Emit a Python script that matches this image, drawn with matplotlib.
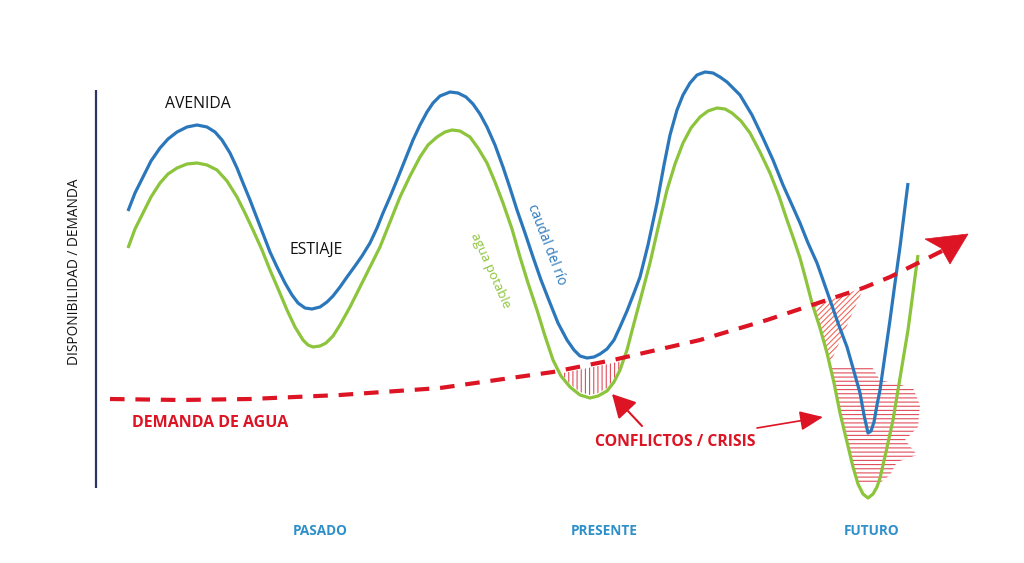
import numpy as np
import matplotlib
matplotlib.use("Agg")
import matplotlib.pyplot as plt
from matplotlib.patches import Polygon

# ---- data (x = time position, y = screen level, y axis inverted) ----
caudal_x = [128, 135, 143, 151, 160, 168, 177, 187, 197, 207, 215, 222, 230, 237, 243, 250, 260,
            270, 277, 285, 292, 298, 305, 312, 320, 327, 333, 340, 347, 355, 362, 370, 377, 383,
            390, 397, 405, 413, 420, 427, 433, 440, 450, 458, 466, 473, 480, 487, 495, 503, 510,
            517, 525, 533, 541, 550, 558, 567, 574, 580, 587, 594, 600, 607, 614, 620, 627, 634,
            640, 648, 657, 664, 670, 677, 683, 690, 697, 705, 713, 720, 727, 740, 752, 763, 773,
            783, 792, 800, 808, 817, 823, 830, 838, 847, 853, 860, 864, 868, 871, 874, 877, 880,
            885, 890, 895, 900, 904, 908]
caudal_y = [211, 193, 177, 161, 148, 139, 132, 127, 125, 127, 132, 140, 153, 168, 183, 200, 226,
            252, 267, 283, 295, 303, 308, 309, 307, 302, 296, 287, 277, 266, 256, 243, 228, 213,
            197, 180, 160, 140, 125, 112, 103, 96, 92, 93, 97, 104, 114, 127, 145, 167, 188,
            210, 233, 257, 280, 303, 323, 340, 350, 356, 358, 357, 354, 349, 340, 327, 311, 293,
            277, 245, 203, 165, 135, 110, 95, 83, 75, 72, 73, 77, 82, 95, 115, 138, 160,
            185, 205, 223, 243, 263, 280, 300, 323, 347, 368, 393, 415, 433, 431, 422, 405, 390,
            355, 320, 283, 247, 215, 183]

potable_x = [128, 135, 143, 151, 160, 168, 177, 187, 197, 207, 217, 227, 237, 245, 253, 262, 270,
             279, 287, 295, 303, 308, 313, 320, 326, 333, 340, 350, 360, 370, 380, 390, 400, 410,
             420, 428, 437, 445, 452, 460, 470, 478, 487, 495, 503, 512, 520, 528, 537, 545, 553,
             561, 570, 580, 590, 598, 607, 614, 620, 627, 633, 641, 650, 658, 667, 675, 683, 691,
             700, 708, 717, 725, 732, 741, 750, 760, 770, 779, 787, 794, 800, 806, 812, 820, 827,
             834, 840, 847, 853, 858, 863, 868, 873, 877, 880, 886, 893, 898, 903, 908, 912, 915,
             918]
potable_y = [248, 229, 213, 197, 183, 174, 168, 164, 163, 165, 170, 181, 197, 213, 230, 250, 270,
             291, 310, 327, 340, 345, 347, 346, 343, 336, 325, 307, 287, 267, 247, 222, 197, 176,
             157, 145, 137, 132, 130, 131, 137, 148, 163, 182, 203, 229, 257, 283, 310, 336, 360,
             376, 387, 395, 398, 396, 391, 382, 370, 350, 327, 297, 263, 228, 190, 164, 143, 128,
             117, 111, 108, 109, 113, 121, 133, 152, 173, 196, 220, 240, 258, 280, 303, 328, 353,
             383, 413, 442, 467, 484, 494, 498, 494, 487, 478, 452, 420, 390, 360, 330, 300, 277,
             255]

demanda_x = [110, 180, 250, 340, 440, 553, 613, 700, 767, 833, 863, 890, 930, 944]
demanda_y = [399, 400, 399, 395, 388, 372, 360, 340, 320, 298, 288, 277, 257, 250]
flecha_x = [968, 925, 941, 950]
flecha_y = [234, 239, 248, 264]

# crisis zones (future)
crisis_diag_x = [815, 864, 829]
crisis_diag_y = [306, 287, 366]
crisis_edge_x = [872, 880, 913, 920, 918, 905, 917, 897, 890, 880]
crisis_edge_y = [367, 380, 388, 405, 427, 440, 455, 462, 475, 483]

periodos = ["PASADO", "PRESENTE", "FUTURO"]
periodos_x = [320, 604, 872]

BLUE = "#2a77bb"
GREEN = "#8cc43c"
RED = "#dc1424"
HATCH = "#e14c5a"
NAVY = "#2c3566"
LBLUE = "#2e8fc9"

plt.rcParams["font.family"] = ["Open Sans", "DejaVu Sans"]
plt.rcParams["hatch.linewidth"] = 0.8

fig = plt.figure(figsize=(10.24, 5.63), dpi=100)
ax = fig.add_axes([0, 0, 1, 1])
ax.set_xlim(0, 1024)
ax.set_ylim(563, 0)
ax.axis("off")

# y axis line
ax.plot([96, 96], [90, 488], color=NAVY, lw=1.6, solid_capstyle="butt")
ax.text(75, 272, "DISPONIBILIDAD / DEMANDA", rotation=90, ha="center", va="center",
        fontsize=9.8, color="#111111")

# present crisis hatch
gx = np.linspace(540, 640, 300)
g_interp = np.interp(gx, potable_x, potable_y)
d_interp = np.interp(gx, demanda_x, demanda_y)
ax.fill_between(gx, d_interp + 3, g_interp - 3, where=(g_interp - 3) > (d_interp + 3),
                facecolor="none", edgecolor=HATCH, hatch="||||", linewidth=0, zorder=1)

# future crisis: diagonal hatch
ax.add_patch(Polygon(np.column_stack([crisis_diag_x, crisis_diag_y]), closed=True,
                     facecolor="none", edgecolor="#ef6a5c", hatch="//////", linewidth=0, zorder=1))

# future crisis: horizontal hatch (left boundary follows left branch of green curve)
left_y = np.linspace(crisis_edge_y[-1], crisis_edge_y[0], 30)
px = np.array(potable_x); py = np.array(potable_y)
branch = (px >= 800) & (px <= 868)
left_x = np.interp(left_y, py[branch], px[branch])
poly = np.column_stack([np.concatenate([crisis_edge_x, left_x]),
                        np.concatenate([crisis_edge_y, left_y])])
ax.add_patch(Polygon(poly, closed=True, facecolor="none", edgecolor=HATCH,
                     hatch="----", linewidth=0, zorder=1))

# curves
ax.plot(potable_x, potable_y, color=GREEN, lw=2.3, zorder=3, solid_capstyle="butt",
        solid_joinstyle="round")
ax.plot(caudal_x, caudal_y, color=BLUE, lw=2.3, zorder=3, solid_capstyle="butt",
        solid_joinstyle="round")
ax.plot(demanda_x, demanda_y, color=RED, lw=3, dashes=(3.5, 2.6), zorder=4)
ax.add_patch(Polygon(np.column_stack([flecha_x, flecha_y]), closed=True, facecolor=RED,
                     edgecolor=RED, linewidth=0.5, zorder=4))

# labels
ax.text(198, 104, "AVENIDA", ha="center", va="center", fontsize=11.3, color="#111111")
ax.text(316, 250, "ESTIAJE", ha="center", va="center", fontsize=11.3, color="#111111")
ax.text(547, 245, "caudal del río", ha="center", va="center", fontsize=9.8, color=BLUE,
        rotation=-69, rotation_mode="anchor")
ax.text(490, 270, "agua potable", ha="center", va="center", fontsize=9.5, color=GREEN,
        rotation=-66, rotation_mode="anchor")
ax.text(210, 423, "DEMANDA DE AGUA", ha="center", va="center", fontsize=11.5,
        fontweight="bold", color=RED)
ax.text(675, 442, "CONFLICTOS / CRISIS", ha="center", va="center", fontsize=11.3,
        fontweight="bold", color=RED)

# crisis pointers
ax.annotate("", xy=(612, 394), xytext=(642, 426),
            arrowprops=dict(arrowstyle="-|>,head_length=1.3,head_width=0.7",
                            color=RED, lw=1.5, mutation_scale=11, shrinkA=0, shrinkB=0))
ax.annotate("", xy=(823, 417), xytext=(757, 428),
            arrowprops=dict(arrowstyle="-|>,head_length=1.3,head_width=0.55",
                            color=RED, lw=1.2, mutation_scale=11, shrinkA=0, shrinkB=0))

for name, x in zip(periodos, periodos_x):
    ax.text(x, 531, name, ha="center", va="center", fontsize=9.8, fontweight="bold", color=LBLUE)

fig.savefig("out.png", dpi=100, facecolor="white")
